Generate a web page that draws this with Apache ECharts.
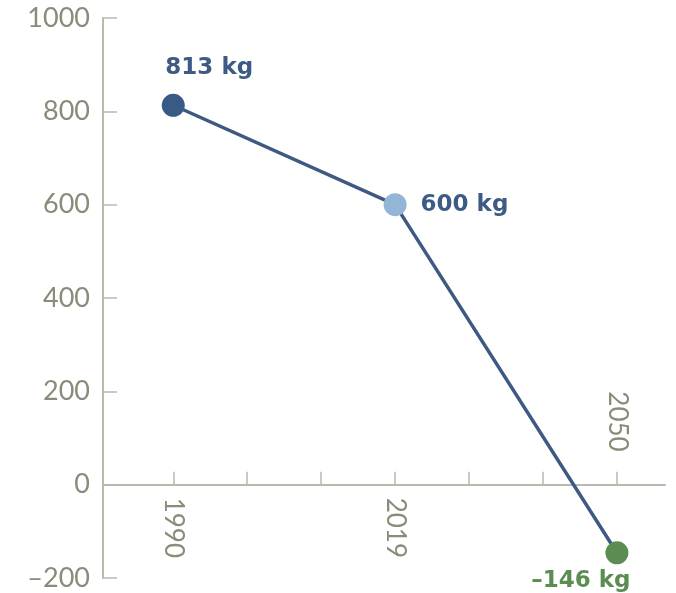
<!DOCTYPE html>
<html>
<head>
<meta charset="utf-8">
<script src="https://cdn.jsdelivr.net/npm/echarts@6/dist/echarts.min.js"></script>
<style>
  html, body { margin: 0; padding: 0; background: #ffffff; }
  #chart { width: 676px; height: 593px; }
</style>
</head>
<body>
<div id="chart"></div>
<script>
// Per-capita values (kg) for the three reference years
const years = ['1990', '2019', '2050'];
const values = [813, 600, -146];
const valueLabels = ['813 kg', '600 kg', '\u2013146 kg'];
const pointColors = ['#3a5a86', '#93b5d6', '#5b8c51'];
const labelColors = ['#3d5b84', '#3d5b84', '#5b8c51'];

// y-axis tick labels
const yTicks = [-200, 0, 200, 400, 600, 800, 1000];

// each year sits on every third minor tick of the x axis
const STEP = 3;
const slots = years.map((_, i) => i * STEP);
const minorTicks = [];
for (let t = 0; t <= slots[slots.length - 1]; t++) minorTicks.push(t);

const axisColor = '#b9b9ad';
const textColor = '#8b8b79';
const font = 'Lato, "Noto Sans", sans-serif';
const boldFont = '"DejaVu Sans", sans-serif';

const chart = echarts.init(document.getElementById('chart'));

const pointData = values.map((v, i) => ({
  value: [slots[i], v],
  itemStyle: { color: pointColors[i] },
  label: {
    show: true,
    formatter: valueLabels[i],
    color: labelColors[i],
    fontFamily: boldFont,
    fontWeight: 'bold',
    fontSize: 23,
    position: i === 0 ? 'top' : (i === 1 ? 'right' : 'bottom'),
    distance: i === 0 ? 14 : (i === 1 ? 14 : 5),
    offset: i === 0 ? [36, 0] : (i === 2 ? [-36, 0] : [0, 0])
  }
}));

// year labels sit on the zero line: below it, except where the point dips under zero
const yearData = years.map((y, i) => {
  const above = values[i] < 0;
  return {
    value: [slots[i], 0],
    label: {
      formatter: y,
      align: above ? 'right' : 'left',
      // offsets are given before the -90° turn
      offset: above ? [-33, 0] : [13, 0]
    }
  };
});

chart.setOption({
  animation: false,
  grid: { left: 103, right: 11, top: 18, bottom: 15, containLabel: false, outerBoundsMode: 'none' },
  xAxis: {
    type: 'value',
    min: -0.95,
    max: 6.65,
    splitLine: { show: false },
    axisLine: { onZero: true, lineStyle: { color: axisColor, width: 2 } },
    axisTick: {
      show: true, inside: true, length: 13,
      customValues: minorTicks,
      lineStyle: { color: axisColor, width: 1.5 }
    },
    axisLabel: { show: false }
  },
  yAxis: {
    type: 'value',
    min: yTicks[0],
    max: yTicks[yTicks.length - 1],
    interval: 200,
    splitLine: { show: false },
    axisLine: { show: true, onZero: false, lineStyle: { color: axisColor, width: 2 } },
    axisTick: { show: true, inside: true, length: 14, lineStyle: { color: axisColor, width: 1.5 } },
    axisLabel: {
      margin: 13,
      color: textColor,
      fontFamily: font,
      fontSize: 27,
      formatter: v => (v < 0 ? '\u2013' + Math.abs(v) : String(v))
    }
  },
  series: [
    {
      type: 'line',
      data: pointData,
      symbol: 'circle',
      symbolSize: 23,
      lineStyle: { color: '#3e5a82', width: 3.5 },
      z: 3
    },
    {
      type: 'scatter',
      data: yearData,
      symbolSize: 0,
      silent: true,
      z: 1,
      itemStyle: { opacity: 1 },
      label: {
        show: true,
        position: 'inside',
        rotate: -90,
        verticalAlign: 'middle',
        color: textColor,
        opacity: 1,
        textBorderWidth: 0,
        textShadowBlur: 0,
        fontFamily: font,
        fontSize: 26
      }
    }
  ]
});
</script>
</body>
</html>
